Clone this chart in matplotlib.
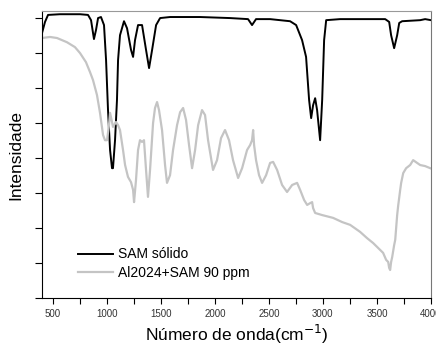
import matplotlib
matplotlib.use("Agg")
import matplotlib.pyplot as plt
from matplotlib.ticker import MultipleLocator

plt.rcParams["font.family"] = ["Liberation Sans", "DejaVu Sans"]

# SAM sólido (black), wavenumber cm-1 / intensity a.u.
sam_x = [400, 428, 456, 567, 752, 826, 854, 881, 900, 919, 946, 974, 993, 1011, 1030,
         1048, 1057, 1076, 1094, 1104, 1122, 1159, 1187, 1224, 1243, 1261, 1289, 1326,
         1363, 1391, 1419, 1456, 1493, 1585, 1863, 2141, 2307, 2344, 2381, 2511, 2696,
         2752, 2807, 2844, 2872, 2891, 2909, 2928, 2946, 2974, 2993, 3011, 3030, 3159,
         3576, 3613, 3631, 3659, 3687, 3706, 3733, 3900, 3946, 4000]
sam_y = [7.57, 7.89, 8.09, 8.11, 8.11, 8.09, 7.94, 7.40, 7.66, 8.00, 8.03, 7.80, 6.80,
         5.37, 4.23, 3.71, 3.71, 4.51, 5.66, 6.80, 7.51, 7.91, 7.71, 7.09, 6.89, 7.37,
         7.80, 7.80, 7.09, 6.57, 7.09, 7.80, 8.00, 8.03, 8.03, 8.00, 7.97, 7.80, 7.97,
         7.97, 7.91, 7.80, 7.37, 6.89, 5.66, 5.14, 5.51, 5.71, 5.37, 4.51, 5.66, 7.37,
         7.94, 7.97, 7.97, 7.89, 7.51, 7.14, 7.51, 7.86, 7.91, 7.94, 7.97, 7.94]

# Al2024+SAM 90 ppm (gray)
al_x = [400, 474, 539, 631, 705, 752, 807, 844, 872, 909, 937, 965, 983, 1002, 1020,
        1030, 1048, 1057, 1085, 1104, 1122, 1150, 1169, 1196, 1224, 1243, 1252, 1270,
        1289, 1307, 1326, 1344, 1363, 1381, 1400, 1428, 1446, 1465, 1483, 1511, 1539,
        1557, 1585, 1613, 1650, 1678, 1706, 1733, 1761, 1789, 1817, 1845, 1881, 1909,
        1937, 1983, 2020, 2057, 2094, 2131, 2168, 2215, 2252, 2298, 2326, 2344, 2354,
        2363, 2381, 2409, 2437, 2474, 2511, 2539, 2576, 2622, 2668, 2715, 2761, 2789,
        2826, 2854, 2881, 2900, 2909, 2928, 2993, 3094, 3178, 3252, 3344, 3409, 3465,
        3511, 3557, 3585, 3604, 3613, 3622, 3631, 3641, 3659, 3669, 3687, 3696, 3715,
        3724, 3743, 3770, 3807, 3835, 3872, 3900, 3946, 3993]
al_y = [7.43, 7.46, 7.43, 7.31, 7.17, 7.00, 6.74, 6.46, 6.23, 5.80, 5.29, 4.66, 4.51,
        4.51, 4.94, 5.29, 5.03, 4.89, 5.03, 4.94, 4.80, 4.23, 3.80, 3.46, 3.31, 3.09,
        2.74, 3.37, 4.23, 4.51, 4.46, 4.51, 3.66, 2.89, 3.66, 5.00, 5.43, 5.60, 5.37,
        4.80, 3.80, 3.29, 3.51, 4.23, 4.94, 5.31, 5.43, 5.09, 4.37, 3.71, 4.23, 4.94,
        5.37, 5.23, 4.51, 3.66, 3.94, 4.57, 4.80, 4.51, 3.94, 3.43, 3.71, 4.23, 4.37,
        4.51, 4.80, 4.37, 3.94, 3.51, 3.29, 3.51, 3.86, 3.89, 3.66, 3.23, 3.03, 3.23,
        3.29, 3.09, 2.80, 2.66, 2.71, 2.74, 2.57, 2.43, 2.37, 2.29, 2.17, 2.09, 1.89,
        1.71, 1.57, 1.43, 1.29, 1.09, 1.03, 0.86, 0.80, 1.03, 1.17, 1.51, 1.66, 2.37,
        2.63, 3.09, 3.29, 3.57, 3.71, 3.80, 3.94, 3.86, 3.80, 3.77, 3.71]

x_ticks = [500, 1000, 1500, 2000, 2500, 3000, 3500, 4000]

fig = plt.figure(figsize=(4.36, 3.46), dpi=100)
ax = fig.add_axes([0.0963, 0.1387, 0.8922, 0.8293])
ax.plot(sam_x, sam_y, color="black", lw=1.4, label="SAM sólido")
ax.plot(al_x, al_y, color="#c4c4c4", lw=1.6, label="Al2024+SAM 90 ppm")

ax.set_xlim(400, 4000)
ax.set_ylim(0, 8.2)
ax.set_xticks(x_ticks)
ax.set_xticklabels([str(t) for t in x_ticks])
ax.xaxis.set_minor_locator(MultipleLocator(250))
ax.yaxis.set_major_locator(MultipleLocator(1))
ax.set_yticklabels([])
ax.tick_params(axis="x", which="both", direction="out", length=4, width=0.8,
               labelsize=7, labelcolor="#333333", pad=4)
ax.tick_params(axis="y", direction="out", length=5, width=0.8)
ax.spines["top"].set_color("#999999")
ax.spines["right"].set_color("#777777")

ax.set_xlabel("Número de onda(cm$^{-1}$)", fontsize=12.5, labelpad=3)
ax.set_ylabel("Intensidade", fontsize=12.5, labelpad=5)

ax.legend(loc="lower left", bbox_to_anchor=(0.075, 0.04), frameon=False,
          fontsize=10, handlelength=2.5, handletextpad=0.35, labelspacing=0.3,
          borderpad=0)

fig.savefig("out.png", dpi=100)
